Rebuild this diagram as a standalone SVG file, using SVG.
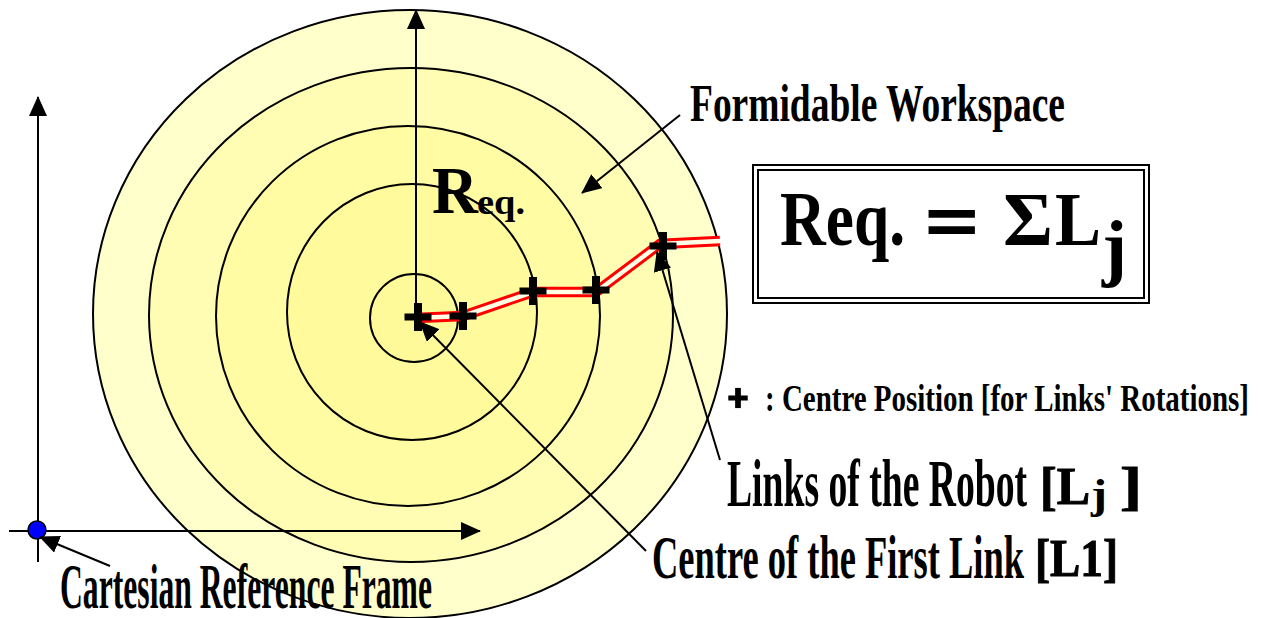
<svg xmlns="http://www.w3.org/2000/svg" width="1262" height="618" viewBox="0 0 1262 618">
<style>
.ring{stroke:#000;stroke-width:2}
.ax{stroke:#000;stroke-width:2;fill:none}
.ptr{stroke:#000;stroke-width:2;fill:none;marker-end:url(#ah)}
.lbl{font-family:"Liberation Serif","Times New Roman",serif;font-weight:bold;fill:#000}
</style>
<defs>
<marker id="ah" markerWidth="20" markerHeight="18" refX="19" refY="9" orient="auto" markerUnits="userSpaceOnUse">
<path d="M0,0 L20,9 L0,18 z" fill="#000"/>
</marker>
<g id="cross">
<rect x="-13.5" y="-3.5" width="27" height="7" fill="#000"/>
<rect x="-4" y="-14" width="8" height="28" fill="#000"/>
</g>
</defs>
<rect width="1262" height="618" fill="#fff"/>
<g id="workspace">
<ellipse class="ring" cx="410" cy="314" rx="317" ry="304" fill="#FFFFCC"/>
<ellipse class="ring" cx="411" cy="315" rx="262" ry="247" fill="#FFFDB3"/>
<ellipse class="ring" cx="408" cy="316" rx="192" ry="190" fill="#FFFCA4"/>
<ellipse class="ring" cx="412" cy="312" rx="125" ry="128" fill="#FFFB9C"/>
<circle class="ring" cx="414" cy="318" r="44" fill="#FFFA99"/>
</g>
<g id="axes">
<line class="ax" x1="38" y1="562" x2="38" y2="97" marker-end="url(#ah)"/>
<line class="ax" x1="9" y1="531" x2="480" y2="531" marker-end="url(#ah)"/>
<line class="ax" x1="416" y1="318" x2="416" y2="10" marker-end="url(#ah)"/>
</g>
<g id="origin">
<circle cx="37" cy="530" r="9" fill="#0000FF" stroke="#000" stroke-width="1.5"/>
</g>
<g id="robot-links">
<path d="M416,318 L463,316 L533,292 L596,292 L660,244 L720,241" fill="none" stroke="#FF0000" stroke-width="10.5" stroke-linejoin="miter"/>
<path d="M416,318 L463,316 L533,292 L596,292 L660,244 L720,241" fill="none" stroke="#FFFFE6" stroke-width="4.5" stroke-linejoin="miter"/>
</g>
<g id="joints">
<use href="#cross" x="418" y="317"/>
<use href="#cross" x="463" y="316"/>
<use href="#cross" x="533" y="291"/>
<use href="#cross" x="596" y="290"/>
<use href="#cross" x="663" y="246"/>
</g>
<g id="connectors">
<line class="ptr" x1="680" y1="115" x2="582" y2="193"/>
<line class="ptr" x1="720" y1="460" x2="657" y2="252"/>
<line class="ptr" x1="646" y1="551" x2="420" y2="322"/>
<line class="ptr" x1="110" y1="566" x2="40" y2="537"/>
</g>
<g id="req-label">
<text class="lbl" x="432" y="213" font-size="68" textLength="46" lengthAdjust="spacingAndGlyphs">R</text>
<text class="lbl" x="477" y="214" font-size="36" textLength="48" lengthAdjust="spacingAndGlyphs">eq.</text>
</g>
<g id="formidable-workspace">
<text class="lbl" x="690" y="121" font-size="52" textLength="375" lengthAdjust="spacingAndGlyphs">Formidable Workspace</text>
</g>
<g id="formula">
<rect x="753" y="165" width="396" height="138" fill="none" stroke="#000" stroke-width="2"/>
<rect x="758" y="170" width="386" height="128" fill="none" stroke="#000" stroke-width="2"/>
<text class="lbl" x="780" y="245" font-size="78" textLength="125" lengthAdjust="spacingAndGlyphs">Req.</text>
<text class="lbl" x="925" y="249" font-size="82" stroke="#000" stroke-width="2" textLength="54" lengthAdjust="spacingAndGlyphs">=</text>
<text class="lbl" x="1003" y="245" font-size="76" textLength="50" lengthAdjust="spacingAndGlyphs">Σ</text>
<text class="lbl" x="1055" y="245" font-size="76" textLength="46" lengthAdjust="spacingAndGlyphs">L</text>
<text class="lbl" x="1102" y="272" font-size="75" textLength="25" lengthAdjust="spacingAndGlyphs">j</text>
</g>
<g id="legend">
<use href="#cross" transform="translate(738,398) scale(0.72)"/>
<text class="lbl" x="765" y="411" font-size="38" textLength="484" lengthAdjust="spacingAndGlyphs">: Centre Position [for Links' Rotations]</text>
</g>
<g id="links-label">
<text class="lbl" x="727" y="506" font-size="68" textLength="300" lengthAdjust="spacingAndGlyphs">Links of the Robot</text>
<text class="lbl" x="1040" y="504" font-size="52" font-weight="normal" stroke="#000" stroke-width="1" textLength="50" lengthAdjust="spacingAndGlyphs">[L</text>
<text class="lbl" x="1091" y="508" font-size="42" textLength="16" lengthAdjust="spacingAndGlyphs">j</text>
<text class="lbl" x="1120" y="504" font-size="52" font-weight="normal" stroke="#000" stroke-width="1" textLength="22" lengthAdjust="spacingAndGlyphs">]</text>
</g>
<g id="centre-label">
<text class="lbl" x="652" y="578" font-size="62" textLength="372" lengthAdjust="spacingAndGlyphs">Centre of the First Link</text>
<text class="lbl" x="1035" y="576" font-size="52" font-weight="normal" stroke="#000" stroke-width="1" textLength="83" lengthAdjust="spacingAndGlyphs">[L1]</text>
</g>
<g id="cartesian-label">
<text class="lbl" x="60" y="608" font-size="63" textLength="372" lengthAdjust="spacingAndGlyphs">Cartesian Reference Frame</text>
</g>
</svg>
